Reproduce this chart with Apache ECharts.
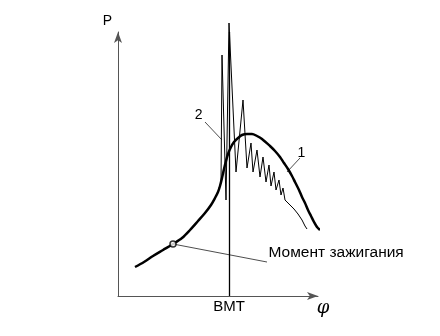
<!DOCTYPE html>
<html>
<head>
<meta charset="utf-8">
<script src="https://cdn.jsdelivr.net/npm/echarts@6/dist/echarts.min.js"></script>
<style>
html,body{margin:0;padding:0;background:#fff;}
#chart{width:440px;height:336px;}
</style>
</head>
<body>
<div id="chart"></div>
<script>
// Curve 1: normal combustion (crank angle relative to TDC, pressure in arbitrary units)
const angle1 = [-94, -85, -76, -66, -56, -47, -39, -31, -24, -18, -14, -11, -9, -7, -5, -3, -1, 2, 5, 9, 13, 18, 23, 28, 33, 41, 46, 51, 55, 59, 63, 66, 70, 73, 76, 79, 82, 85, 88, 91];
const pressure1 = [29, 34, 40, 46, 52, 58, 66, 75, 83, 91, 98, 104, 110, 118, 127, 135, 142, 149, 154, 158, 161, 162, 162, 160, 157, 150, 145, 139, 133, 127, 120, 114, 106, 99, 93, 86, 80, 74, 69, 66];

// Curve 2: knocking combustion
const angle2 = [-10, -8, -7, -3, 0, 7, 14, 18, 22, 24, 28, 31, 34, 37, 40, 42, 45, 47, 50, 52, 54, 56, 60, 62, 65, 69, 73, 76, 78];
const pressure2 = [108, 113, 241, 96, 273, 124, 196, 128, 153, 124, 146, 119, 139, 114, 131, 110, 124, 106, 116, 101, 108, 96, 92, 93, 87, 82, 76, 70, 67];

// Ignition moment
const ignitionAngle = -56;
const ignitionPressure = 52;
const ignitionLabel = 'Момент зажигания';
const ignitionLabelAt = [38, 34];

// Curve labels and their leader lines
const label1Text = '1';
const label1Line = [[71, 138], [58, 124]];
const label2Text = '2';
const label2Line = [[-24, 174], [-7, 156]];

// Axis labels
const tdcAngle = 0;
const tdcLabel = 'ВМТ';
const xName = 'φ';
const yName = 'P';

const FONT = 'Liberation Sans';
const zip = (a, b) => a.map((v, i) => [v, b[i]]);
const invisible = 'rgba(0,0,0,0)';

const chart = echarts.init(document.getElementById('chart'), null, {renderer: 'canvas'});
chart.setOption({
  animation: false,
  backgroundColor: '#fff',
  grid: {left: 118, right: 122, top: 32, bottom: 40},
  xAxis: {
    type: 'value', min: -111, max: 89,
    name: xName, nameLocation: 'end', nameGap: 5,
    nameTextStyle: {fontFamily: 'DejaVu Serif', fontStyle: 'italic', fontSize: 18, color: '#000',
      align: 'center', verticalAlign: 'top', padding: [3, 0, 0, 0]},
    axisLine: {show: true, onZero: false, lineStyle: {color: '#555', width: 1}, symbol: ['none', 'arrow'], symbolSize: [6, 11]},
    axisTick: {show: false},
    splitLine: {show: false},
    axisLabel: {show: true, customValues: [tdcAngle], formatter: () => tdcLabel,
      fontFamily: FONT, fontSize: 15, color: '#000', margin: 3}
  },
  yAxis: {
    type: 'value', min: 0, max: 264,
    name: yName, nameLocation: 'end', nameGap: 4,
    nameTextStyle: {fontFamily: FONT, fontSize: 14, color: '#000', align: 'right', verticalAlign: 'bottom', padding: [0, 6, 0, 0]},
    axisLine: {show: true, onZero: false, lineStyle: {color: '#555', width: 1}, symbol: ['none', 'arrow'], symbolSize: [6, 11]},
    axisTick: {show: false},
    splitLine: {show: false},
    axisLabel: {show: false}
  },
  series: [
    {
      name: 'knock', type: 'line', clip: false, symbol: 'none', z: 3,
      lineStyle: {color: '#000', width: 1},
      data: zip(angle2, pressure2),
      markLine: {
        silent: true, symbol: 'none', label: {show: false},
        lineStyle: {color: '#000', width: 1.3, type: 'solid'},
        data: [{xAxis: tdcAngle}]
      }
    },
    {
      name: 'normal', type: 'line', symbol: 'none', smooth: 0.3, z: 4,
      lineStyle: {color: '#000', width: 2.5},
      data: zip(angle1, pressure1)
    },
    {
      name: 'ignitionLeader', type: 'line', z: 5,
      symbol: 'circle', symbolSize: 1, itemStyle: {color: invisible},
      lineStyle: {color: '#000', width: 0.7},
      data: [
        [ignitionAngle, ignitionPressure],
        {value: ignitionLabelAt, label: {show: true, formatter: ignitionLabel, position: 'right', distance: 1, offset: [0, -9],
          fontFamily: FONT, fontSize: 15.5, color: '#000'}}
      ]
    },
    {
      name: 'ignition', type: 'scatter', z: 6,
      symbol: 'circle', symbolSize: 6,
      itemStyle: {color: '#fff', borderColor: '#000', borderWidth: 1.5},
      data: [[ignitionAngle, ignitionPressure]]
    },
    {
      name: 'label2', type: 'line', z: 5,
      symbol: 'circle', symbolSize: 1, itemStyle: {color: invisible},
      lineStyle: {color: '#000', width: 0.7},
      data: [
        {value: label2Line[0], label: {show: true, formatter: label2Text, position: 'left', distance: 2, offset: [0, -7],
          fontFamily: FONT, fontSize: 14, color: '#000'}},
        label2Line[1]
      ]
    },
    {
      name: 'label1', type: 'line', z: 5,
      symbol: 'circle', symbolSize: 1, itemStyle: {color: invisible},
      lineStyle: {color: '#000', width: 0.7},
      data: [
        {value: label1Line[0], label: {show: true, formatter: label1Text, position: 'right', distance: 0, offset: [-3, -5],
          fontFamily: FONT, fontSize: 14, color: '#000'}},
        label1Line[1]
      ]
    }
  ]
});
</script>
</body>
</html>
